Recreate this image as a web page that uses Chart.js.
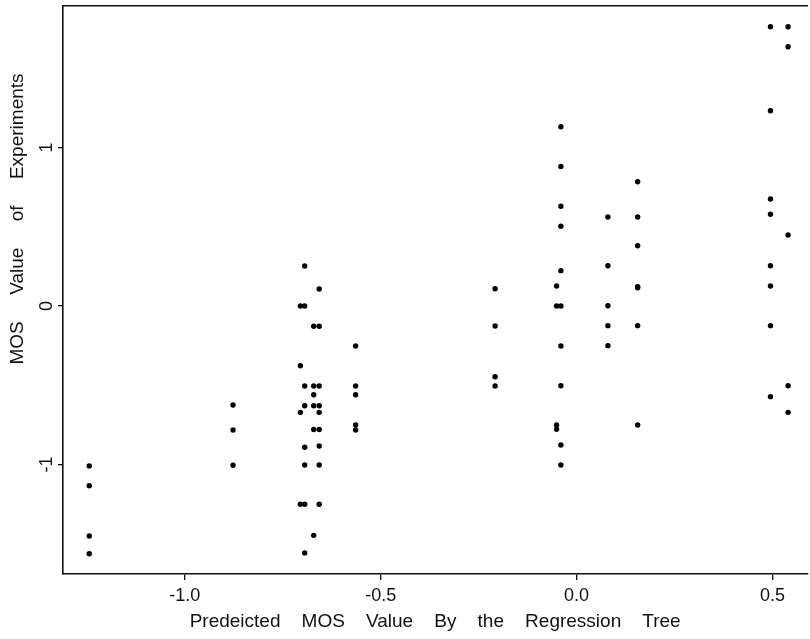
<!DOCTYPE html>
<html>
<head>
<meta charset="utf-8">
<script src="https://cdn.jsdelivr.net/npm/chart.js@4/dist/chart.umd.min.js"></script>
<style>
  html, body { margin: 0; padding: 0; background: #fff; }
  #wrap { width: 810px; height: 639px; }
</style>
</head>
<body>
<div id="wrap"><canvas id="mosChart"></canvas></div>
<script>
// predicted MOS from the regression tree (x) and measured MOS (y), one entry per test
const predictedMOS = [
  -1.244, -1.244, -1.244, -1.244,
  -0.877, -0.877, -0.877,
  -0.705, -0.705, -0.705, -0.705,
  -0.694, -0.694, -0.694, -0.694, -0.694, -0.694, -0.694, -0.694,
  -0.671, -0.671, -0.671, -0.671, -0.671, -0.671,
  -0.657, -0.657, -0.657, -0.657, -0.657, -0.657, -0.657, -0.657, -0.657,
  -0.564, -0.564, -0.564, -0.564, -0.564,
  -0.208, -0.208, -0.208, -0.208,
  -0.051, -0.051, -0.051, -0.051,
  -0.040, -0.040, -0.040, -0.040, -0.040, -0.040, -0.040, -0.040, -0.040, -0.040,
  0.080, 0.080, 0.080, 0.080, 0.080,
  0.156, 0.156, 0.156, 0.156, 0.156, 0.156, 0.156,
  0.495, 0.495, 0.495, 0.495, 0.495, 0.495, 0.495, 0.495,
  0.540, 0.540, 0.540, 0.540, 0.540
];
const experimentMOS = [
  -1.009, -1.134, -1.451, -1.563,
  -0.625, -0.782, -1.005,
  0.000, -0.377, -0.671, -1.251,
  0.252, 0.000, -0.505, -0.629, -0.891, -1.003, -1.251, -1.558,
  -0.128, -0.505, -0.560, -0.629, -0.779, -1.447,
  0.107, -0.128, -0.505, -0.629, -0.671, -0.779, -0.883, -1.003, -1.251,
  -0.252, -0.505, -0.560, -0.751, -0.782,
  0.109, -0.126, -0.446, -0.505,
  0.126, 0.000, -0.751, -0.778,
  1.131, 0.881, 0.629, 0.503, 0.223, 0.000, -0.252, -0.503, -0.877, -1.003,
  0.562, 0.254, 0.002, -0.124, -0.250,
  0.784, 0.562, 0.380, 0.122, 0.115, -0.124, -0.751,
  1.762, 1.232, 0.675, 0.579, 0.254, 0.126, -0.124, -0.572,
  1.762, 1.636, 0.448, -0.503, -0.671
];
const xTicks = [-1.0, -0.5, 0.0, 0.5];
const yTicks = [-1, 0, 1];

const xTitle = 'Predeicted    MOS    Value    By    the    Regression    Tree';
const yTitle = 'MOS     Value     of     Experiments';

const FONT = '"Liberation Sans", Arial, sans-serif';
const INK = '#111';

const points = predictedMOS.map((x, i) => ({ x: x, y: experimentMOS[i] }));

// rotated y-axis caption, sits a bit above the middle of the axis
const yCaption = {
  id: 'yCaption',
  afterDraw(chart) {
    const ctx = chart.ctx;
    ctx.save();
    ctx.translate(18, 219);
    ctx.rotate(-Math.PI / 2);
    ctx.font = '19px ' + FONT;
    ctx.fillStyle = INK;
    ctx.textAlign = 'center';
    ctx.textBaseline = 'middle';
    ctx.fillText(yTitle, 0, 0);
    ctx.restore();
  }
};

// keep the plot box flush: no extra room for half tick labels
const noEdgePad = s => {
  s.paddingTop = 0;
  s.paddingBottom = 0;
  s.paddingLeft = 0;
  s.paddingRight = 0;
};

new Chart(document.getElementById('mosChart'), {
  type: 'scatter',
  data: {
    datasets: [{
      data: points,
      backgroundColor: '#000',
      borderColor: '#000',
      borderWidth: 0,
      pointRadius: 2.7,
      pointHoverRadius: 2.7
    }]
  },
  options: {
    responsive: true,
    maintainAspectRatio: false,
    animation: false,
    events: [],
    layout: { padding: 0 },
    plugins: {
      legend: { display: false },
      tooltip: { enabled: false }
    },
    scales: {
      x: {
        type: 'linear',
        position: 'bottom',
        min: -1.311,
        max: 0.589,
        afterBuildTicks: s => { s.ticks = xTicks.map(v => ({ value: v })); },
        afterFit: s => { s.height = 65; noEdgePad(s); },
        ticks: {
          callback: v => v.toFixed(1),
          color: INK,
          font: { family: FONT, size: 18 },
          padding: 5,
          maxRotation: 0,
          autoSkip: false
        },
        grid: { drawOnChartArea: false, drawTicks: true, tickLength: 6, color: INK, lineWidth: 1.3 },
        border: { color: INK, width: 1.6 },
        title: {
          display: true,
          text: xTitle,
          color: INK,
          font: { family: FONT, size: 19 },
          padding: { top: 0, bottom: 6 }
        }
      },
      xTop: {
        type: 'linear',
        position: 'top',
        min: -1.311,
        max: 0.589,
        afterFit: s => { s.height = 6; noEdgePad(s); },
        ticks: { display: false },
        grid: { display: false },
        border: { color: INK, width: 1.6 }
      },
      y: {
        type: 'linear',
        position: 'left',
        min: -1.691,
        max: 1.893,
        afterBuildTicks: s => { s.ticks = yTicks.map(v => ({ value: v })); },
        afterFit: s => { s.width = 63; noEdgePad(s); },
        ticks: {
          callback: v => String(v),
          color: INK,
          font: { family: FONT, size: 18 },
          minRotation: 90,
          maxRotation: 90,
          crossAlign: 'center',
          padding: 3
        },
        grid: { drawOnChartArea: false, drawTicks: true, tickLength: 5, color: INK, lineWidth: 1.3 },
        border: { color: INK, width: 1.6 }
      }
    }
  },
  plugins: [yCaption]
});
</script>
</body>
</html>
